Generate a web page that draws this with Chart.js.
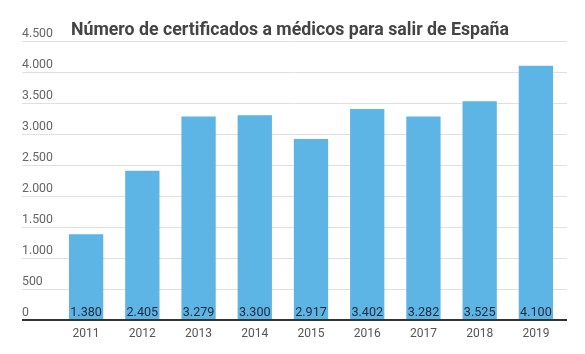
<!DOCTYPE html>
<html>
<head>
<meta charset="utf-8">
<script src="https://cdn.jsdelivr.net/npm/chart.js@4/dist/chart.umd.min.js"></script>
<style>
  html, body { margin: 0; padding: 0; background: #fff; }
  #wrap { width: 585px; height: 354px; }
</style>
</head>
<body>
<div id="wrap"><canvas id="grafico"></canvas></div>
<script>
const titulo = 'Número de certificados a médicos para salir de España';
const anios = ['2011', '2012', '2013', '2014', '2015', '2016', '2017', '2018', '2019'];
const certificados = [1380, 2405, 3279, 3300, 2917, 3402, 3282, 3525, 4100];
const ticksY = [0, 500, 1000, 1500, 2000, 2500, 3000, 3500, 4000, 4500];

const fmt = n => n.toLocaleString('de-DE');

// rejilla, etiquetas del eje Y, titulo y valores dentro de las barras
const extras = {
    id: 'extras',
    beforeDatasetsDraw(chart) {
        const ctx = chart.ctx;
        const y = chart.scales.y;
        ctx.save();
        ctx.font = '12.3px Roboto';
        ctx.textAlign = 'left';
        ctx.textBaseline = 'alphabetic';
        ticksY.forEach(t => {
            const py = Math.round(y.getPixelForValue(t)) + 0.5;
            if (t > 0) {
                ctx.strokeStyle = '#e0e0e0';
                ctx.lineWidth = 1;
                ctx.beginPath();
                ctx.moveTo(22, py);
                ctx.lineTo(567, py);
                ctx.stroke();
            }
            ctx.fillStyle = '#666';
            ctx.fillText(fmt(t), 22, py - 4.5);
        });
        // titulo ajustado al ancho del original
        ctx.font = 'bold 18px Roboto';
        ctx.fillStyle = '#444';
        const w = ctx.measureText(titulo).width;
        ctx.translate(71, 35);
        ctx.scale(Math.min(1, 438 / w), 1);
        ctx.fillText(titulo, 0, 0);
        ctx.restore();
    },
    afterDatasetsDraw(chart) {
        const ctx = chart.ctx;
        const y = chart.scales.y;
        const base = y.getPixelForValue(0);
        ctx.save();
        ctx.strokeStyle = '#333';
        ctx.lineWidth = 2;
        ctx.beginPath();
        ctx.moveTo(22, base + 0.5);
        ctx.lineTo(567, base + 0.5);
        ctx.stroke();
        ctx.font = '12.6px Roboto';
        ctx.fillStyle = '#1f2a3a';
        ctx.textAlign = 'center';
        ctx.textBaseline = 'alphabetic';
        chart.getDatasetMeta(0).data.forEach((bar, i) => {
            ctx.fillText(fmt(certificados[i]), bar.x, base - 4);
        });
        ctx.restore();
    }
};

const ctxGrafico = document.getElementById('grafico').getContext('2d');
const grafico = new Chart(ctxGrafico, {
    type: 'bar',
    data: {
        labels: anios,
        datasets: [{
            label: 'Certificados',
            data: certificados,
            backgroundColor: '#5db5e5',
            borderWidth: 0,
            barPercentage: 0.61,
            categoryPercentage: 1
        }]
    },
    options: {
        responsive: true,
        maintainAspectRatio: false,
        animation: false,
        layout: { padding: { left: 58, right: 21, top: 41, bottom: 6 } },
        plugins: {
            legend: { display: false },
            tooltip: { enabled: false }
        },
        scales: {
            x: {
                grid: { display: false, drawTicks: false },
                border: { display: false },
                ticks: { color: '#555', font: { family: 'Roboto', size: 12 }, padding: 7 }
            },
            y: {
                display: false,
                min: 0,
                max: 4500
            }
        }
    },
    plugins: [extras]
});
</script>
</body>
</html>
